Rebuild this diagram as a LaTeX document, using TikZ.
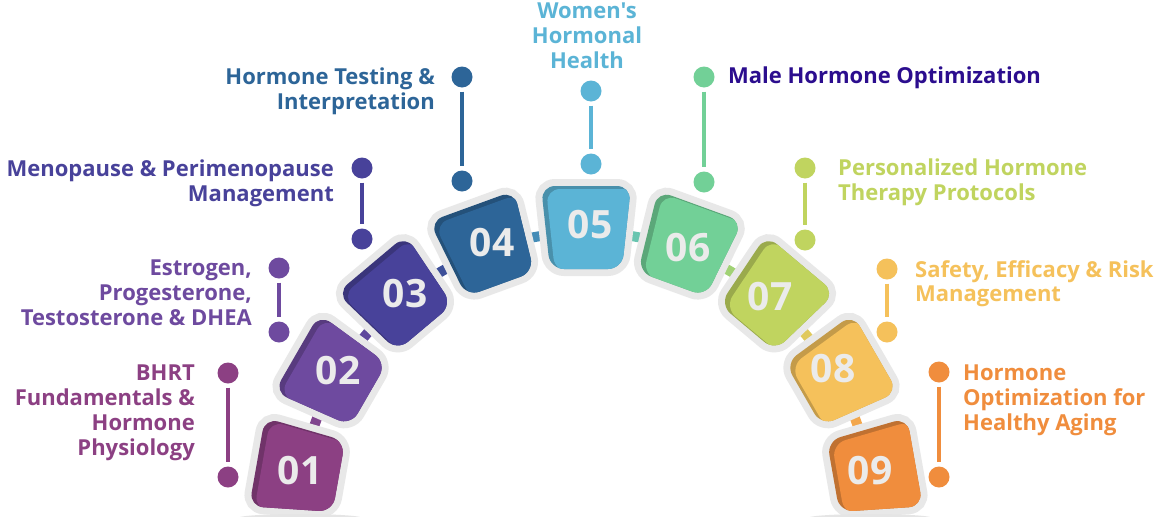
\documentclass[tikz,border=0pt]{standalone}
\usepackage{fontspec}
\setmainfont{Open Sans}[Ligatures=TeXOff]
\definecolor{c1}{HTML}{8C4083}
\definecolor{c2}{HTML}{6E4A9F}
\definecolor{c3}{HTML}{48429A}
\definecolor{c4}{HTML}{2D6598}
\definecolor{c5}{HTML}{5BB4D6}
\definecolor{c6}{HTML}{72D097}
\definecolor{c7}{HTML}{C0D45F}
\definecolor{c8}{HTML}{F5C15B}
\definecolor{c9}{HTML}{F08D3D}
\definecolor{c6t}{HTML}{2B0D8E}
\definecolor{bordc}{HTML}{E8E8E8}
\definecolor{numgray}{HTML}{EBEBEB}
\colorlet{bar1}{c1!60!c2}
\colorlet{bar2}{c2!60!c3}
\colorlet{bar3}{c3!60!c4}
\colorlet{bar4}{c4!50!c5}
\colorlet{bar5}{c5!40!c6}
\colorlet{bar6}{c6!40!c7}
\colorlet{bar7}{c7!40!c8}
\colorlet{bar8}{c8!50!c9}
\def\bshape{(-45,-42) -- (45,-42) -- (36,41) -- (-36,41) -- cycle}
\begin{document}
\begin{tikzpicture}[x=1pt,y=-1pt,
  lab/.style={font=\fontsize{22pt}{24.8pt}\selectfont\bfseries, inner sep=0pt},
  num/.style={font=\fontsize{39pt}{39pt}\selectfont\bfseries, text=numgray, inner sep=0pt},
  dot/.style={circle, inner sep=0pt, minimum size=21pt},
  stem/.style={line width=4pt, shorten <=4pt, shorten >=4pt},
  bar/.style={line width=10pt}]
\useasboundingbox (0,0) rectangle (1171,517);
\clip (0,0) rectangle (1171,517);
\fill[white] (0,0) rectangle (1171,517);

% box centres
\foreach \a/\n in {170/1,150/2,130/3,110/4,90/5,70/6,50/7,30/8,10/9}{
  \coordinate (b\n) at ({586+292*cos(\a)},{520-292*sin(\a)});
}
% connecting bars
\foreach \i/\j in {1/2,2/3,3/4,4/5,5/6,6/7,7/8,8/9}{
  \draw[bar, draw=bar\i] (b\i) -- (b\j);
}
% boxes
\foreach \a/\c/\n in {170/c1/1,150/c2/2,130/c3/3,110/c4/4,90/c5/5,70/c6/6,50/c7/7,30/c8/8,10/c9/9}{
  \begin{scope}[shift={(b\n)}, rotate=\a-90]
    \draw[rounded corners=14pt, line width=14pt, draw=bordc, fill=bordc] \bshape;
    \fill[rounded corners=14pt, \c!80!black] \bshape;
  \end{scope}
  \begin{scope}
    \clip[shift={(b\n)}, rotate=\a-90, rounded corners=14pt] \bshape;
    \fill[\c, shift={(b\n)}, xshift=5pt, yshift=-3pt, rotate=\a-90, rounded corners=14pt] \bshape;
  \end{scope}
}
% bottom shadows
\fill[black!10] (300,518) ellipse [x radius=62pt, y radius=4pt];
\fill[black!10] (870,518) ellipse [x radius=62pt, y radius=4pt];

% numbers
\node[num] (n1) at (300,471) {01};
\node[num] (n2) at (338,371) {02};
\node[num] (n3) at (405,294) {03};
\node[num] (n4) at (492,243) {04};
\node[num] (n5) at (590,225) {05};
\node[num] (n6) at (688,248) {06};
\node[num] (n7) at (770,297) {07};
\node[num] (n8) at (833,369) {08};
\node[num] (n9) at (870,471) {09};

% dots and stems
\foreach \n/\c/\x/\ya/\yb in {1/c1/228/373/477, 2/c2/279/268/332, 3/c3/362/168/239,
  4/c4/462/77/181, 5/c5/591/91/164, 6/c6/704/77/182, 7/c7/805/168/240,
  8/c8/887/269/332, 9/c9/939/372/477}{
  \node[dot, fill=\c] (d\n a) at (\x,\ya) {};
  \node[dot, fill=\c] (d\n b) at (\x,\yb) {};
  \draw[stem, draw=\c] (d\n a) -- (d\n b);
}

% labels
\node[lab, text=c1, anchor=north east, align=right] (t1) at (195,365) {BHRT\\Fundamentals \&\\Hormone\\Physiology};
\node[lab, text=c2, anchor=north east, align=right] (t2) at (252,260) {Estrogen,\\Progesterone,\\Testosterone \& DHEA};
\node[lab, text=c3, anchor=north east, align=right] (t3) at (334,160) {Menopause \& Perimenopause\\Management};
\node[lab, text=c4, anchor=north east, align=right] (t4) at (435,68) {Hormone Testing \&\\Interpretation};
\node[lab, text=c5, anchor=north, align=center] (t5) at (587,3) {Women's\\Hormonal\\Health};
\node[lab, text=c6t, anchor=north west, align=left] (t6) at (728,67) {Male Hormone Optimization};
\node[lab, text=c7, anchor=north west, align=left] (t7) at (838,159) {Personalized Hormone\\Therapy Protocols};
\node[lab, text=c8, anchor=north west, align=left] (t8) at (915,260) {Safety, Efficacy \& Risk\\Management};
\node[lab, text=c9, anchor=north west, align=left] (t9) at (963,365) {Hormone\\Optimization for\\Healthy Aging};
\end{tikzpicture}
\end{document}
